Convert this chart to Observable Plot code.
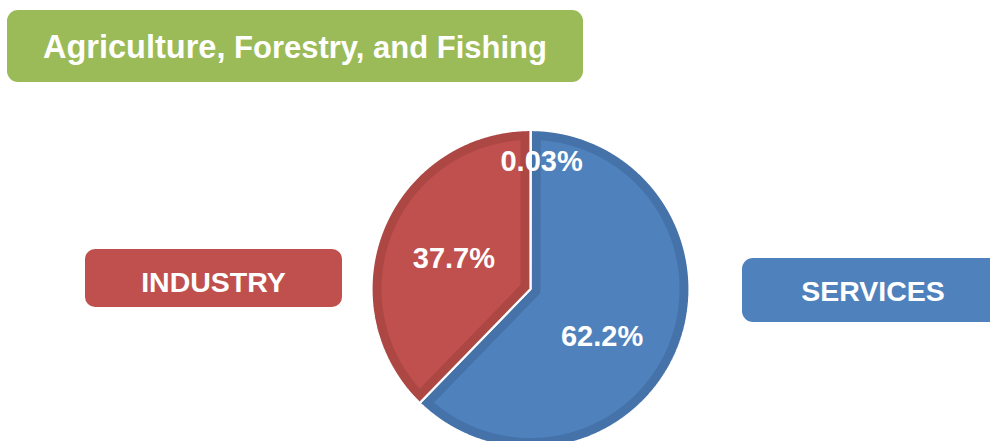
<!DOCTYPE html>
<html>
<head>
<meta charset="utf-8">
<script src="https://cdn.jsdelivr.net/npm/d3@7"></script>
<script src="https://cdn.jsdelivr.net/npm/@observablehq/plot@0.6"></script>
<style>
  html, body { margin: 0; padding: 0; background: #ffffff; }
  #wrap { position: relative; width: 990px; height: 441px; overflow: hidden;
          font-family: "Liberation Sans", Arial, Helvetica, sans-serif; }
  #chart { position: absolute; left: 0; top: 0; }
  .box { position: absolute; color: #ffffff; font-weight: bold; }
  .box .txt { position: absolute; left: 0; right: 0; text-align: center; white-space: nowrap; line-height: 1; }
</style>
</head>
<body>
<div id="wrap"><div id="chart"></div></div>
<script>
// ---- data ----
const sectors = ["Agriculture, Forestry, and Fishing", "Services", "Industry"];
const shares = [0.03, 62.2, 37.7];               // percent of total
const sectorTitles = ["Agriculture, Forestry, and Fishing", "SERVICES", "INDUSTRY"];
const fillColors = ["#9BBB59", "#4F81BD", "#C0504D"];
const edgeColors = ["#8CAA4F", "#4573A9", "#AD4744"];

// ---- layout ----
const cx = 530, cy = 288.5, R = 159, band = 10;
const u = band / R;
const labelRadius = 0.52;
const labelNudge = { "Agriculture, Forestry, and Fishing": [11, -45], "Services": [-5, 17], "Industry": [0, 0.5] };

const rows = sectors.map((s, i) => ({ sector: s, share: shares[i], fill: fillColors[i], edge: edgeColors[i] }));
const arcs = d3.pie().sort(null).value(d => d.share)(rows);

const outerPts = [], innerPts = [], labelRows = [];
const step = Math.PI / 720;
for (const a of arcs) {
  const a0 = a.startAngle, a1 = a.endAngle, d = a.data;
  // outer wedge
  outerPts.push({ sector: d.sector, edge: d.edge, x: 0, y: 0 });
  const n = Math.max(2, Math.ceil((a1 - a0) / step));
  for (let k = 0; k <= n; k++) {
    const t = a0 + (a1 - a0) * k / n;
    outerPts.push({ sector: d.sector, edge: d.edge, x: Math.sin(t), y: Math.cos(t) });
  }
  // inner (inset) wedge
  const Ri = 1 - u, da = Math.asin(u / Ri);
  if (a1 - da > a0 + da) {
    const n0 = [Math.cos(a0), -Math.sin(a0)], n1 = [-Math.cos(a1), Math.sin(a1)];
    const det = n0[0] * n1[1] - n0[1] * n1[0];
    const vx = (u * n1[1] - n0[1] * u) / det, vy = (n0[0] * u - u * n1[0]) / det;
    innerPts.push({ sector: d.sector, fill: d.fill, x: vx, y: vy });
    const b0 = a0 + da, b1 = a1 - da;
    const m = Math.max(2, Math.ceil((b1 - b0) / step));
    for (let k = 0; k <= m; k++) {
      const t = b0 + (b1 - b0) * k / m;
      innerPts.push({ sector: d.sector, fill: d.fill, x: Ri * Math.sin(t), y: Ri * Math.cos(t) });
    }
  }
  // label
  const mid = (a0 + a1) / 2, nd = labelNudge[d.sector];
  labelRows.push({
    text: `${d.share}%`,
    x: labelRadius * Math.sin(mid) + nd[0] / R,
    y: labelRadius * Math.cos(mid) - nd[1] / R
  });
}

const chart = Plot.plot({
  width: 990, height: 441, margin: 0,
  x: { domain: [-1, 1], range: [cx - R, cx + R], axis: null },
  y: { domain: [-1, 1], range: [cy + R, cy - R], axis: null },
  color: { type: "identity" },
  style: { background: "transparent", overflow: "visible" },
  marks: [
    Plot.line(outerPts, { x: "x", y: "y", z: "sector", fill: "edge", stroke: "white", strokeWidth: 2.2,
                          curve: "linear-closed", strokeLinejoin: "miter" }),
    Plot.line(innerPts, { x: "x", y: "y", z: "sector", fill: "fill", stroke: "none", curve: "linear-closed" }),
    Plot.text(labelRows, { x: "x", y: "y", text: "text", fill: "white", fontSize: 29, fontWeight: "bold",
                           fontFamily: "Liberation Sans, Arial, sans-serif" })
  ]
});
document.getElementById("chart").appendChild(chart);

// ---- category boxes ----
const boxLayout = [
  { left: 7,   top: 10,  w: 576, h: 72, r: 11, fs: 32.5, fs2: 31, textTop: 20.8 },
  { left: 742, top: 258, w: 262, h: 64, r: 11, fs: 28.5, textTop: 18.6 },
  { left: 85,  top: 249, w: 257, h: 58, r: 10, fs: 28.5, textTop: 18.6 }
];
const wrap = document.getElementById("wrap");
sectorTitles.forEach((title, i) => {
  const L = boxLayout[i];
  const box = document.createElement("div");
  box.className = "box";
  Object.assign(box.style, { left: L.left + "px", top: L.top + "px", width: L.w + "px", height: L.h + "px",
                             borderRadius: L.r + "px", background: fillColors[i] });
  const t = document.createElement("div");
  t.className = "txt";
  t.style.top = L.textTop + "px";
  t.style.fontSize = L.fs + "px";
  if (L.fs2) {
    const cut = title.indexOf(",") + 1;
    const s1 = document.createElement("span"); s1.textContent = title.slice(0, cut);
    const s2 = document.createElement("span"); s2.textContent = title.slice(cut); s2.style.fontSize = L.fs2 + "px";
    t.appendChild(s1); t.appendChild(s2);
  } else {
    t.textContent = title;
  }
  box.appendChild(t);
  wrap.appendChild(box);
});
</script>
</body>
</html>
